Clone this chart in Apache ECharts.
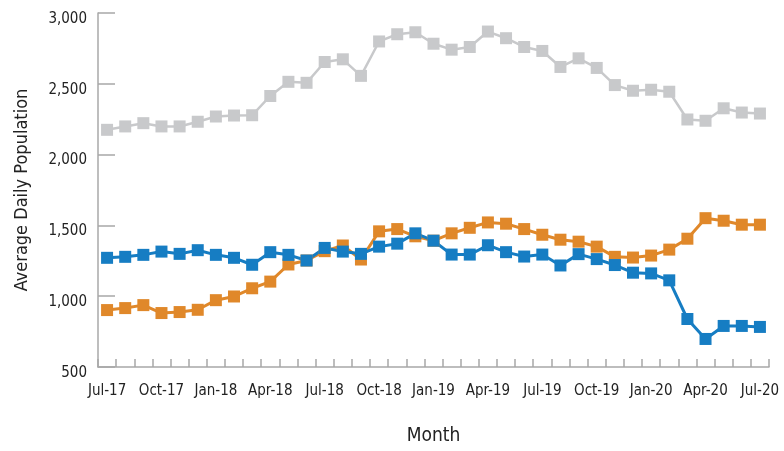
<!DOCTYPE html>
<html>
<head>
<meta charset="utf-8">
<script src="https://cdn.jsdelivr.net/npm/echarts@6/dist/echarts.min.js"></script>
<style>
html,body{margin:0;padding:0;background:#fff;}
#chart{width:784px;height:451px;}
</style>
</head>
<body>
<div id="chart"></div>
<script>
const months = ["Jul-17","Aug-17","Sep-17","Oct-17","Nov-17","Dec-17","Jan-18","Feb-18","Mar-18","Apr-18","May-18","Jun-18",
  "Jul-18","Aug-18","Sep-18","Oct-18","Nov-18","Dec-18","Jan-19","Feb-19","Mar-19","Apr-19","May-19","Jun-19",
  "Jul-19","Aug-19","Sep-19","Oct-19","Nov-19","Dec-19","Jan-20","Feb-20","Mar-20","Apr-20","May-20","Jun-20","Jul-20"];
const graySeries = [2175,2199,2222,2199,2199,2232,2269,2276,2278,2414,2514,2507,
  2654,2673,2556,2799,2850,2864,2783,2741,2760,2869,2822,2760,
  2732,2619,2680,2612,2491,2451,2458,2444,2248,2239,2327,2297,2290];
const orangeSeries = [902,916,937,881,888,904,972,998,1056,1103,1224,1252,
  1318,1358,1259,1458,1474,1423,1392,1444,1483,1521,1512,1474,
  1434,1399,1385,1350,1278,1273,1287,1329,1406,1551,1533,1505,1505];
const blueSeries = [1271,1278,1292,1315,1299,1325,1292,1271,1222,1311,1292,1252,
  1341,1315,1299,1350,1371,1444,1392,1294,1294,1360,1311,1280,
  1294,1217,1297,1262,1220,1166,1161,1112,839,698,790,790,783];
const yTicks = [500,1000,1500,2000,2500,3000];

const FONT = 'DejaVu Sans';
const W = 'condensed';
const chart = echarts.init(document.getElementById('chart'), null, {renderer:'canvas'});
function mk(name, data, color, lw){
  return {name, type:'line', data, symbol:'rect', symbolSize:12,
    lineStyle:{color, width:lw}, itemStyle:{color}, animation:false};
}
chart.setOption({
  animation:false,
  grid:{left:98, right:15, top:13, bottom:81, containLabel:false},
  xAxis:{type:'category', data:months, boundaryGap:true,
    name:'Month', nameLocation:'middle', nameGap:60,
    nameTextStyle:{fontFamily:FONT, fontWeight:W, fontSize:19, color:'#222'},
    axisLine:{lineStyle:{color:'#a8a8a8', width:1.5}},
    axisTick:{show:true, inside:true, length:8, interval:0, lineStyle:{color:'#a8a8a8', width:1.5}},
    axisLabel:{interval:2, margin:17, fontFamily:FONT, fontWeight:W, fontSize:15, color:'#222'}
  },
  yAxis:{type:'value', min:yTicks[0], max:yTicks[yTicks.length-1], interval:500,
    name:'Average Daily Population', nameLocation:'middle', nameGap:67, nameRotate:90,
    nameTextStyle:{fontFamily:FONT, fontWeight:W, fontSize:18, color:'#222'},
    axisLine:{show:true, lineStyle:{color:'#a8a8a8', width:1.5}},
    axisTick:{show:true, inside:true, length:17, lineStyle:{color:'#a8a8a8', width:1.5}},
    splitLine:{show:false},
    axisLabel:{margin:11, fontFamily:FONT, fontWeight:W, fontSize:15, color:'#222',
      verticalAlign:'top', lineHeight:12,
      formatter:v=>v.toLocaleString('en-US')}
  },
  series:[
    mk('Gray', graySeries, '#c8c9cb', 2.5),
    mk('Orange', orangeSeries, '#e0882a', 3),
    mk('Blue', blueSeries, '#167dc3', 3)
  ]
});
</script>
</body>
</html>
